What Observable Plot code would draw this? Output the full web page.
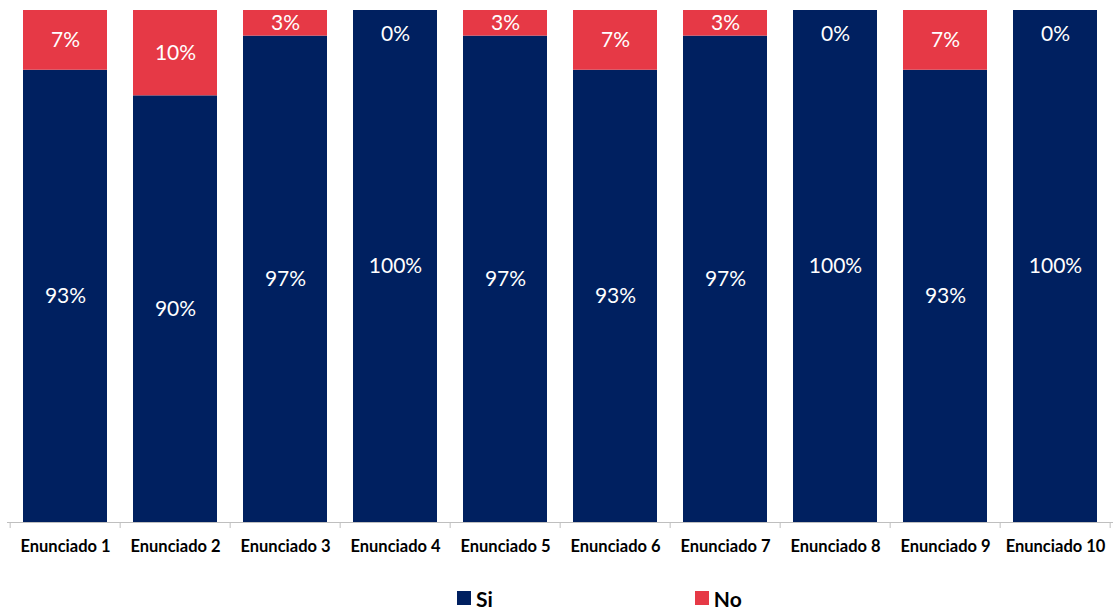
<!DOCTYPE html>
<html>
<head>
<meta charset="utf-8">
<script src="https://cdn.jsdelivr.net/npm/d3@7"></script>
<script src="https://cdn.jsdelivr.net/npm/@observablehq/plot@0.6"></script>
<style>
  html, body { margin: 0; padding: 0; background: #fff; }
  #chart { width: 1116px; }
  .legend { display: flex; justify-content: flex-start; align-items: center; height: 40px; padding-left: 457px; font-family: Lato, "Open Sans", sans-serif; font-weight: 700; font-size: 21px; color: #000; }
  .legend .item { display: flex; align-items: center; }
  .legend .sw { width: 14px; height: 14px; display: inline-block; margin-right: 5px; }
</style>
</head>
<body>
<div id="chart"></div>
<script>
const categories = ["Enunciado 1","Enunciado 2","Enunciado 3","Enunciado 4","Enunciado 5","Enunciado 6","Enunciado 7","Enunciado 8","Enunciado 9","Enunciado 10"];
const siValues = [93, 90, 97, 100, 97, 93, 97, 100, 93, 100];
const noValues = [7, 10, 3, 0, 3, 7, 3, 0, 7, 0];
const seriesNames = ["Si", "No"];
const seriesColors = ["#002060", "#E63946"];
const yDomain = [40, 100];

const rows = [];
categories.forEach((c, i) => {
  rows.push({cat: c, serie: "Si", value: siValues[i]});
  rows.push({cat: c, serie: "No", value: noValues[i]});
});

const siLabels = categories.map((c, i) => ({cat: c, y: (yDomain[0] + siValues[i]) / 2, text: siValues[i] + "%"}));
const noLabels = categories.map((c, i) => ({cat: c, y: siValues[i] + noValues[i] / 2, zero: noValues[i] === 0, text: noValues[i] + "%"}));

const pad = 0.2335;
const W = 1116, H = 578;

function boundaryTicks(index, scales, values, dims) {
  const g = d3.create("svg:g");
  const x0 = scales.x(categories[0]);
  const step = scales.x(categories[1]) - x0;
  const y0 = scales.y(yDomain[0]);
  for (let i = 0; i <= categories.length; i++) {
    const bx = x0 - step * pad / 2 + i * step;
    g.append("line").attr("x1", bx).attr("x2", bx).attr("y1", y0).attr("y2", y0 + 6)
      .attr("stroke", "#bfbfbf").attr("stroke-width", 1);
  }
  return g.node();
}

const plot = Plot.plot({
  width: W,
  height: H,
  marginLeft: 7,
  marginRight: 3,
  marginTop: 10,
  marginBottom: 56,
  style: {fontFamily: "Lato, 'Open Sans', sans-serif", background: "#fff"},
  x: {domain: categories, paddingInner: pad, paddingOuter: pad / 2, label: null, tickSize: 0},
  y: {domain: yDomain, axis: null},
  color: {domain: seriesNames, range: seriesColors},
  marks: [
    Plot.barY(rows, Plot.stackY({x: "cat", y: "value", fill: "serie", order: seriesNames, clip: "frame"})),
    Plot.ruleY([yDomain[0]], {stroke: "#bfbfbf", strokeWidth: 1}),
    boundaryTicks,
    Plot.text(siLabels, {x: "cat", y: "y", text: "text", fill: "white", fontSize: 21}),
    Plot.text(noLabels.filter(d => !d.zero), {x: "cat", y: "y", text: "text", fill: "white", fontSize: 21}),
    Plot.text(noLabels.filter(d => d.zero), {x: "cat", y: yDomain[1], dy: 24, text: "text", fill: "white", fontSize: 21}),
    Plot.axisX({tickSize: 0, tickPadding: 18, fontSize: 16.5, fontWeight: 700, fill: "#000", label: null})
  ]
});

document.getElementById("chart").appendChild(plot);

const legend = document.createElement("div");
legend.className = "legend";
seriesNames.forEach((s, i) => {
  const item = document.createElement("span");
  item.className = "item";
  item.style.marginRight = i === 0 ? "202px" : "0";
  const sw = document.createElement("span");
  sw.className = "sw";
  sw.style.background = seriesColors[i];
  item.appendChild(sw);
  item.appendChild(document.createTextNode(s));
  legend.appendChild(item);
});
document.body.appendChild(legend);
</script>
</body>
</html>
